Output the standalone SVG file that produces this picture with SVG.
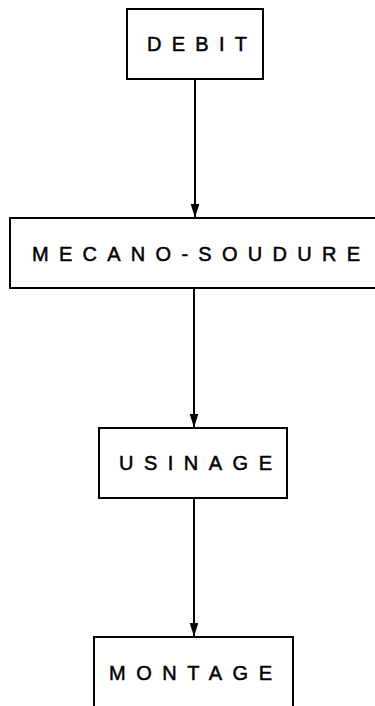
<svg xmlns="http://www.w3.org/2000/svg" width="375" height="706" viewBox="0 0 375 706">
<style>
.box{fill:#fff;stroke:#000;stroke-width:2}
.lbl{font-family:"Liberation Sans","DejaVu Sans",sans-serif;font-size:20px;fill:#000;stroke:#000;stroke-width:0.5}
.con{stroke:#000;stroke-width:2;fill:none}
</style>
<defs>
<marker id="ah" markerUnits="userSpaceOnUse" markerWidth="14" markerHeight="10" refX="13.5" refY="5" orient="auto" viewBox="0 0 14 10">
<path d="M0,0.5 L14,5 L0,9.5 Z" fill="#000"/>
</marker>
</defs>
<rect width="375" height="706" fill="#fff"/>
<g id="debit">
<rect class="box" x="127" y="9" width="136" height="70"/>
<text class="lbl" x="147" y="51" textLength="100" lengthAdjust="spacing">DEBIT</text>
</g>
<g id="mecano-soudure">
<rect class="box" x="10" y="218" width="380" height="70"/>
<text class="lbl" x="32" y="261" textLength="328" lengthAdjust="spacing">MECANO-SOUDURE</text>
</g>
<g id="usinage">
<rect class="box" x="99" y="428" width="188" height="70"/>
<text class="lbl" x="119" y="470" textLength="153" lengthAdjust="spacing">USINAGE</text>
</g>
<g id="montage">
<rect class="box" x="94" y="637" width="199" height="90"/>
<text class="lbl" x="109" y="680" textLength="163" lengthAdjust="spacing">MONTAGE</text>
</g>
<g id="connectors">
<line class="con" x1="195" y1="80" x2="195" y2="217" marker-end="url(#ah)"/>
<line class="con" x1="194" y1="289" x2="194" y2="427" marker-end="url(#ah)"/>
<line class="con" x1="194" y1="499" x2="194" y2="636" marker-end="url(#ah)"/>
</g>
</svg>
